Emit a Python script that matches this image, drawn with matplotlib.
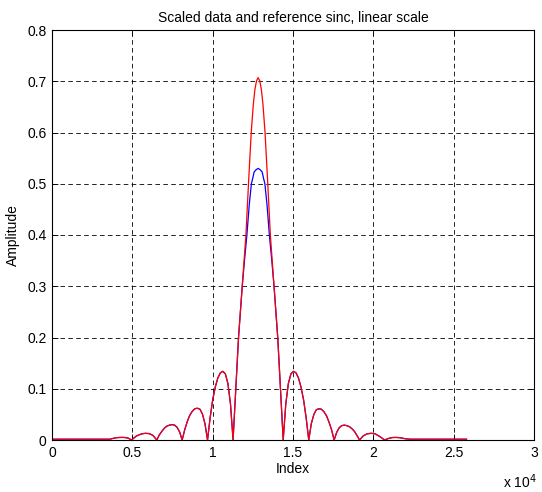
import matplotlib
matplotlib.use("Agg")
import matplotlib.pyplot as plt
import numpy as np

plt.rcParams['font.family'] = ['Liberation Sans', 'DejaVu Sans']

# left side lobes + flat start (index, amplitude)
side_left_x = [0, 1000, 2000, 3000, 3600, 3780, 4010, 4250, 4480, 4720, 4950,
               5260, 5580, 5810, 6050, 6280, 6520,
               6680, 6840, 6990, 7150, 7310, 7470, 7630, 7780, 7940, 8100,
               8260, 8420, 8570, 8730, 8890, 9050, 9210, 9360, 9520, 9680,
               9840, 10000, 10160, 10320, 10480, 10630, 10790, 10950, 11110]
side_left_y = [0.0015, 0.0015, 0.0015, 0.0015, 0.0015, 0.003, 0.0045, 0.005, 0.005, 0.004, 0.0,
               0.008, 0.012, 0.013, 0.0125, 0.009, 0.0,
               0.010, 0.017, 0.023, 0.027, 0.029, 0.030, 0.029, 0.025, 0.016, 0.0,
               0.020, 0.036, 0.048, 0.056, 0.061, 0.062, 0.060, 0.051, 0.032, 0.0,
               0.043, 0.078, 0.103, 0.121, 0.131, 0.134, 0.129, 0.110, 0.070]

# main lobe of the reference sinc (red)
main_red_x = [11270, 11440, 11610, 11840, 12070, 12230, 12400, 12530, 12630, 12730, 12830,
              12930, 13030, 13130, 13260, 13430, 13590, 13820, 14050, 14220, 14390]
main_red_y = [0.0, 0.1, 0.2, 0.3, 0.4, 0.5, 0.6, 0.655, 0.684, 0.701, 0.707,
              0.701, 0.684, 0.655, 0.6, 0.5, 0.4, 0.3, 0.2, 0.1, 0.0]

# main lobe of the scaled data (blue)
main_blue_x = [11270, 11440, 11610, 11840, 11980, 12130, 12280, 12410, 12500, 12580, 12710, 12830,
               12950, 13080, 13160, 13250, 13380, 13530, 13680, 13820, 14050, 14220, 14390]
main_blue_y = [0.0, 0.1, 0.2, 0.3, 0.35, 0.4, 0.46, 0.5, 0.5115, 0.523, 0.5275, 0.53,
               0.5275, 0.523, 0.5115, 0.5, 0.46, 0.4, 0.35, 0.3, 0.2, 0.1, 0.0]

# right side lobes + flat tail
side_right_x = [14550, 14710, 14870, 15030, 15190, 15340, 15500, 15660, 15820, 15980,
                16140, 16300, 16450, 16610, 16770, 16930, 17090, 17240, 17400, 17560,
                17720, 17880, 18030, 18190, 18350, 18510, 18670, 18820, 18980, 19140,
                19370, 19610, 19840, 20080, 20390, 20700,
                20940, 21180, 21420, 21660, 21980, 22300, 23000, 24000, 25000, 25800]
side_right_y = [0.070, 0.110, 0.129, 0.134, 0.131, 0.121, 0.103, 0.078, 0.043, 0.0,
                0.032, 0.050, 0.059, 0.061, 0.060, 0.055, 0.047, 0.035, 0.020, 0.0,
                0.015, 0.024, 0.028, 0.029, 0.028, 0.026, 0.022, 0.017, 0.009, 0.0,
                0.008, 0.012, 0.013, 0.0125, 0.007, 0.0,
                0.003, 0.0048, 0.005, 0.0045, 0.0025, 0.0015, 0.0015, 0.0015, 0.0015, 0.0015]

xticks = [0, 5000, 10000, 15000, 20000, 25000, 30000]
xticklabels = ['0', '0.5', '1', '1.5', '2', '2.5', '3']
yticks = [0, 0.1, 0.2, 0.3, 0.4, 0.5, 0.6, 0.7, 0.8]
yticklabels = ['0', '0.1', '0.2', '0.3', '0.4', '0.5', '0.6', '0.7', '0.8']

blue_x = side_left_x + main_blue_x + side_right_x
blue_y = side_left_y + main_blue_y + side_right_y
red_x = side_left_x + main_red_x + side_right_x
red_y = side_left_y + main_red_y + side_right_y

fig = plt.figure(figsize=(5.42, 4.92), dpi=100)
ax = fig.add_axes([52 / 542, 52 / 492, 482 / 542, 410 / 492])

ax.plot(blue_x, blue_y, color='blue', lw=0.9)
ax.plot(red_x, red_y, color='red', lw=0.9)

ax.set_xlim(0, 30000)
ax.set_ylim(0, 0.8)
ax.set_xticks(xticks)
ax.set_xticklabels(xticklabels)
ax.set_yticks(yticks)
ax.set_yticklabels(yticklabels)
ax.tick_params(direction='in', length=4, width=0.6, top=True, right=True,
               labelsize=10, colors='black', pad=4)
ax.grid(True, color='black', linestyle=(0, (5.5, 4)), linewidth=0.6)
for s in ax.spines.values():
    s.set_linewidth(0.8)

ax.set_title('Scaled data and reference sinc, linear scale', fontsize=10, pad=6)
ax.set_xlabel('Index', fontsize=10, labelpad=2)
ax.set_ylabel('Amplitude', fontsize=10, labelpad=5)
fig.text(503 / 542, 1 - 482 / 492, 'x 10$^4$', fontsize=10, va='center')

fig.savefig('out.png', dpi=100)
